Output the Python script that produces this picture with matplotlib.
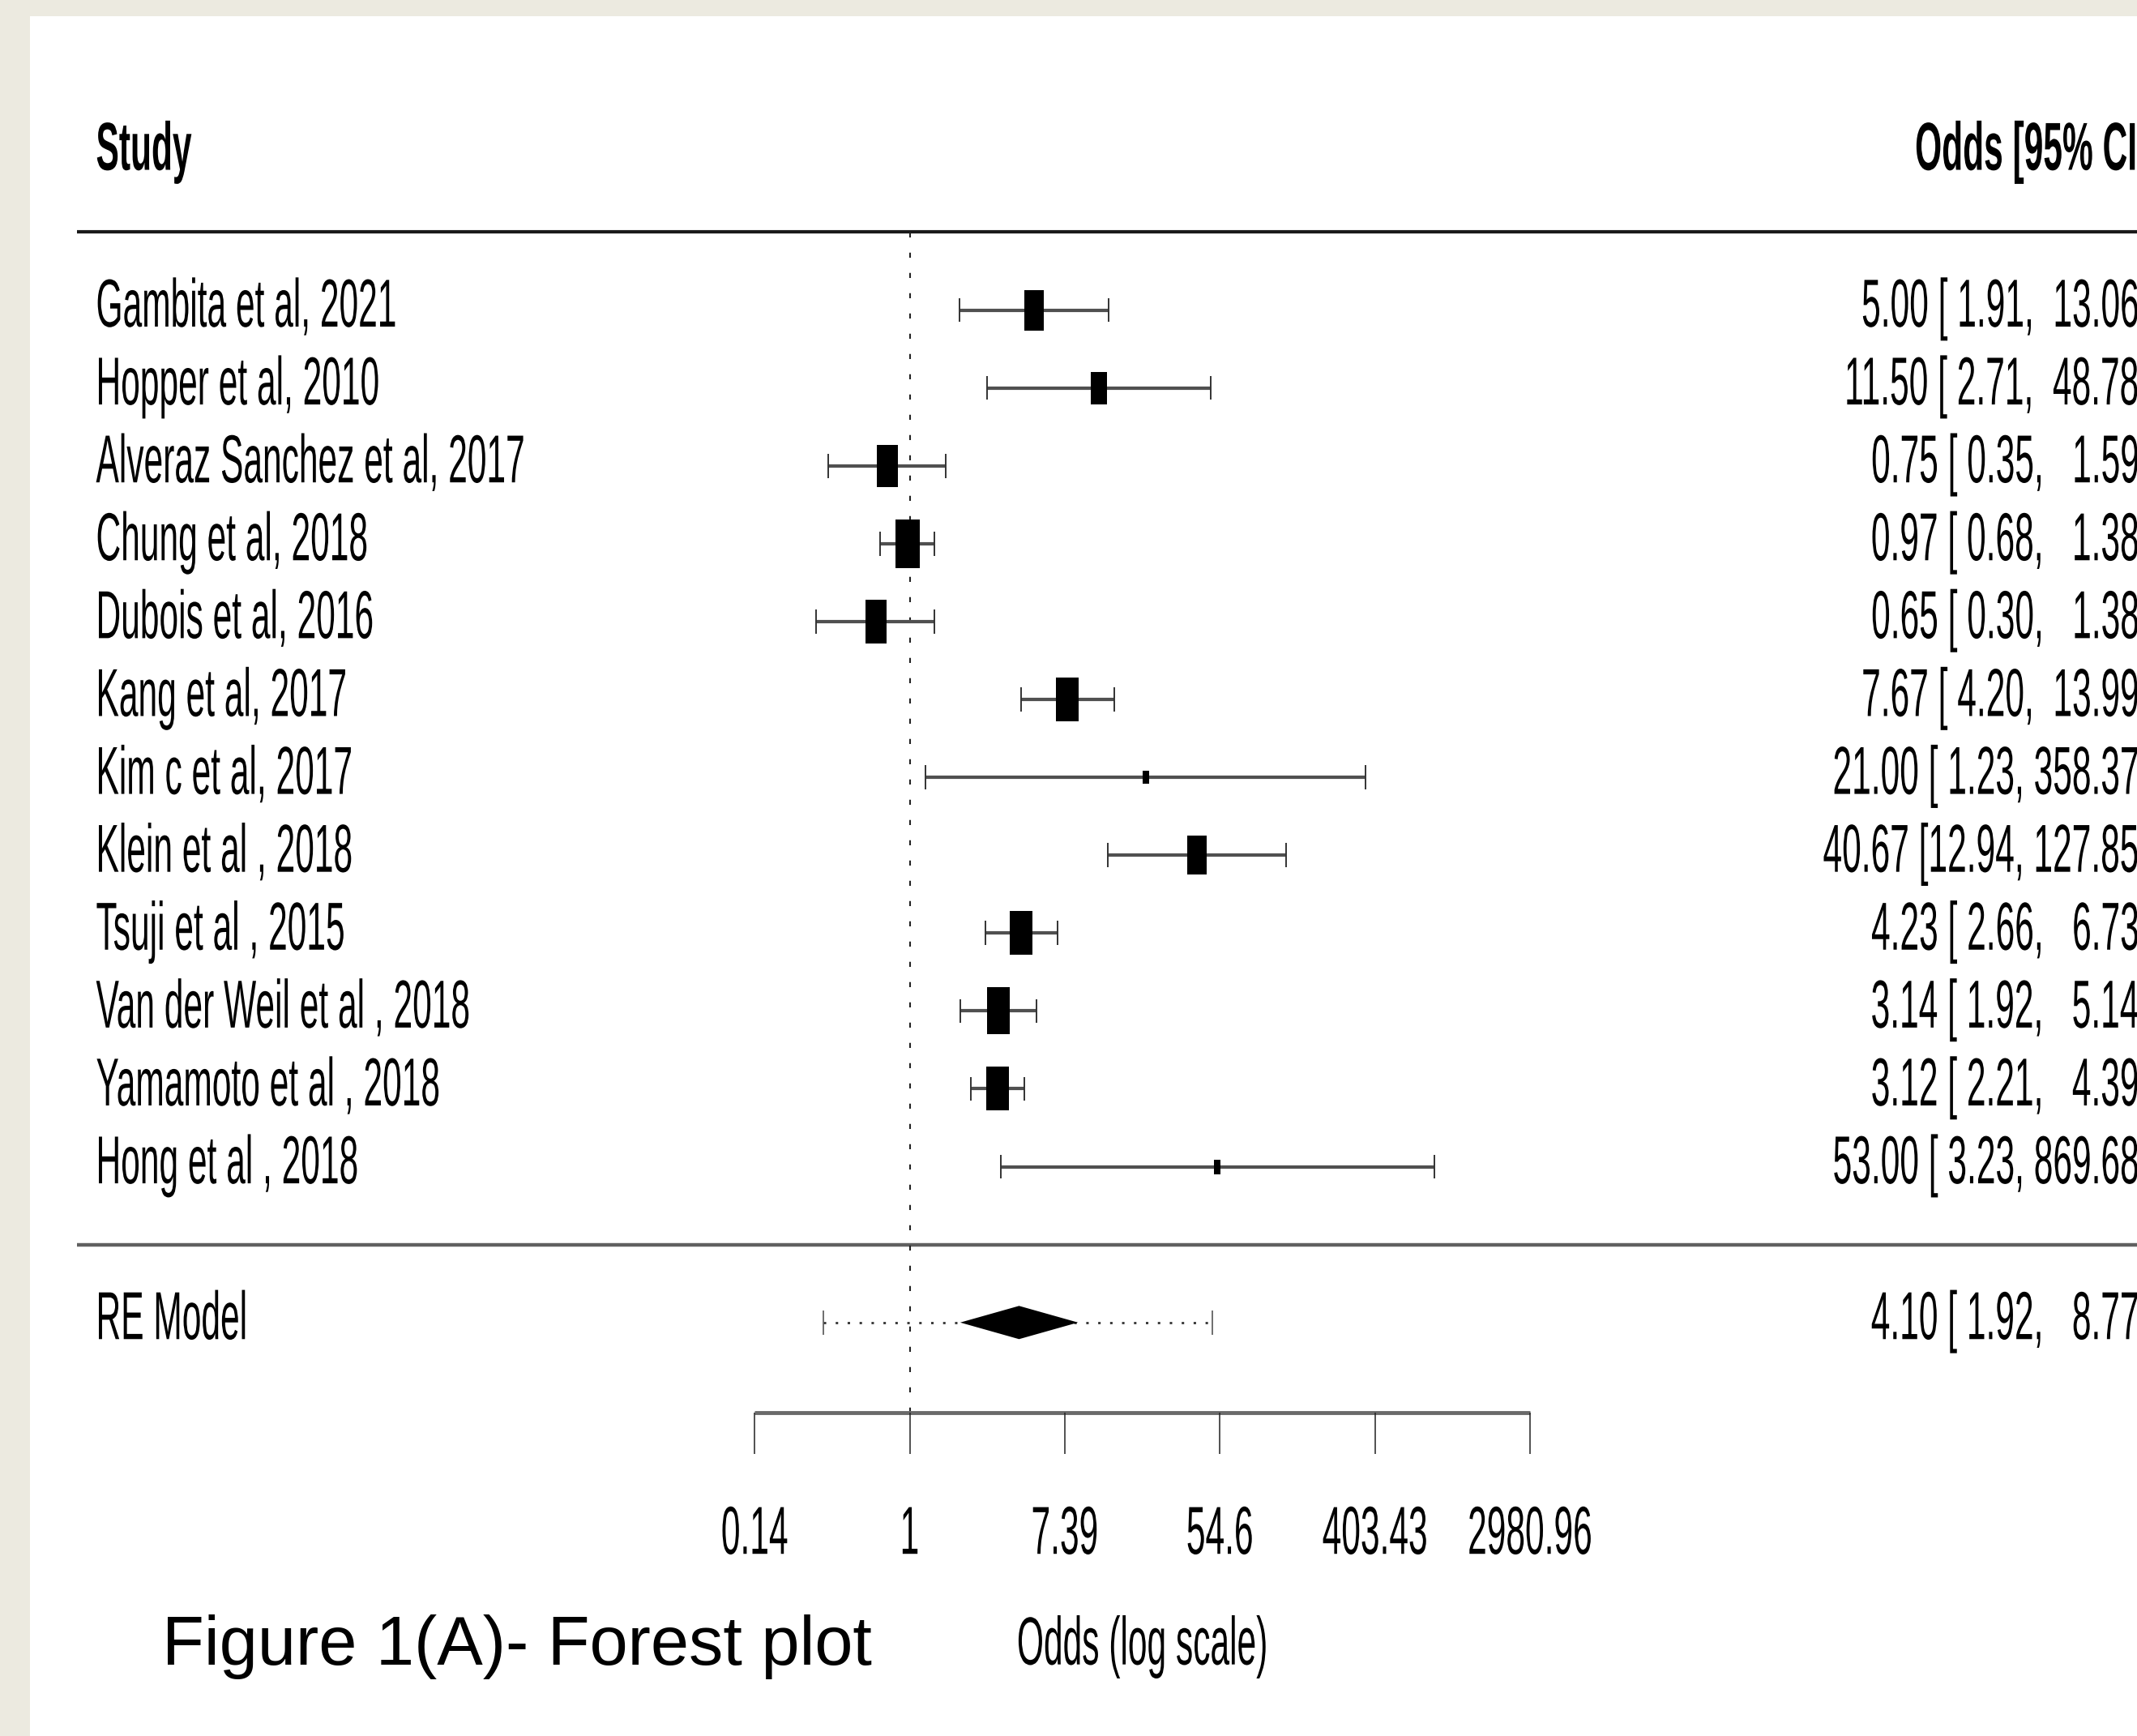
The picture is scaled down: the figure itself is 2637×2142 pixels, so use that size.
import numpy as np
import matplotlib
matplotlib.use('Agg')
import matplotlib.pyplot as plt
from matplotlib.patheffects import AbstractPathEffect
from matplotlib.transforms import Affine2D
from matplotlib.path import Path
from matplotlib.patches import Rectangle

plt.rcParams['font.family'] = ['Liberation Sans', 'DejaVu Sans']

# ---- data ----
studies = ['Gambita et al, 2021', 'Hopper et al, 2010', 'Alveraz Sanchez et al, 2017',
           'Chung et al, 2018', 'Dubois et al, 2016', 'Kang et al, 2017',
           'Kim c et al, 2017', 'Klein et al , 2018', 'Tsuji et al , 2015',
           'Van der Weil et al , 2018', 'Yamamoto et al , 2018', 'Hong et al , 2018']
odds = [5.00, 11.50, 0.75, 0.97, 0.65, 7.67, 21.00, 40.67, 4.23, 3.14, 3.12, 53.00]
ci_lo = [1.91, 2.71, 0.35, 0.68, 0.30, 4.20, 1.23, 12.94, 2.66, 1.92, 2.21, 3.23]
ci_hi = [13.06, 48.78, 1.59, 1.38, 1.38, 13.99, 358.37, 127.85, 6.73, 5.14, 4.39, 869.68]
weights = [8.8, 7.0, 9.3, 10.6, 9.5, 9.8, 2.9, 8.4, 9.8, 10.2, 9.8, 3.2]  # relative box size

re_est, re_lo, re_hi = 4.10, 1.92, 8.77
pi_lo, pi_hi = 0.33, 49.5

tick_log = [-2, 0, 2, 4, 6, 8]
tick_labels = ['0.14', '1', '7.39', '54.6', '403.43', '2980.96']


# the R plot was stretched vertically, so glyphs are drawn tall and narrow
class Stretch(AbstractPathEffect):
    def __init__(self, sy=2.0):
        super().__init__()
        self.sy = sy

    def draw_path(self, renderer, gc, tpath, affine, rgbFace=None):
        y0 = affine.transform([[0.0, 0.0]])[0, 1]   # baseline
        tr = affine + Affine2D().translate(0, -y0).scale(1, self.sy).translate(0, y0)
        renderer.draw_path(gc, tpath, tr, rgbFace)


W, H = 2637, 2142
X0_PX = 1122.5      # pixel column of odds = 1
PX_PER_LOG = 95.67
ROW1_PX = 382.5     # pixel row of first study
PX_PER_ROW = 96.1


def px_odds(px):
    return np.exp((px - X0_PX) / PX_PER_LOG)


fig = plt.figure(figsize=(W / 100, H / 100), dpi=100, facecolor='#ECEAE0')
ax = fig.add_axes([0, 0, 1, 1])
ax.set_xscale('log')
ax.set_xlim(px_odds(0), px_odds(W))
ax.set_ylim(12 - (H - ROW1_PX) / PX_PER_ROW, 12 + ROW1_PX / PX_PER_ROW)
ax.axis('off')

ax.add_patch(Rectangle((37 / W, 0), 1, 1 - 20 / H, transform=ax.transAxes,
                       facecolor='white', edgecolor='none', zorder=0))

FS = 30.6
stretch = [Stretch(1.97)]


def txt(x, y, s, ha='left', **kw):
    return ax.text(x, y, s, ha=ha, va='baseline', fontsize=FS,
                   path_effects=stretch, **kw)


k = len(studies)
rows = np.arange(k, 0, -1)
x_left = px_odds(118.5)
x_right = px_odds(2651)
y_axis = -2.16

# header and separator lines
txt(x_left, 13.8, 'Study', fontweight='bold')
txt(x_right, 13.8, 'Odds [95% CI]', ha='right', fontweight='bold')
ax.hlines(13, px_odds(95), px_odds(W + 10), color='#1a1a1a', lw=3)
ax.hlines(0, px_odds(95), px_odds(W + 10), color='#606060', lw=3.2)

# reference line
ax.vlines(1, y_axis, 13, color='#222222', lw=1.5, linestyles=[(0, (3, 9))])

# study rows
box = Path([(-0.5, -1), (0.5, -1), (0.5, 1), (-0.5, 1), (-0.5, -1)],
           [Path.MOVETO, Path.LINETO, Path.LINETO, Path.LINETO, Path.CLOSEPOLY])
cap = 0.155
for i in range(k):
    y = rows[i]
    ax.hlines(y, ci_lo[i], ci_hi[i], color='#505050', lw=3.0, zorder=3)
    ax.vlines([ci_lo[i], ci_hi[i]], y - cap, y + cap, color='#333333', lw=1.4, zorder=3)
    w_px = weights[i] * 2.8
    ax.plot(odds[i], y, marker=box, markersize=2 * w_px * 0.72, color='black',
            mew=0, ls='none', zorder=4)
    txt(x_left, y - 0.213, studies[i])
    txt(x_right, y - 0.213,
        f'{odds[i]:.2f} [{ci_lo[i]:5.2f}, {ci_hi[i]:6.2f}]', ha='right')

# RE model
ax.hlines(-1, pi_lo, pi_hi, color='#333333', lw=2.0, linestyles=[(0, (1.1, 4.2))], zorder=3)
ax.vlines([pi_lo, pi_hi], -1 - cap, -1 + cap, color='#555555', lw=1.2, zorder=3)
d = 20.5 / PX_PER_ROW
ax.fill([re_lo, re_est, re_hi, re_est], [-1, -1 + d, -1, -1 - d], color='black', lw=0, zorder=4)
txt(x_left, -1.213, 'RE Model')
txt(x_right, -1.213, f'{re_est:.2f} [{re_lo:5.2f}, {re_hi:6.2f}]', ha='right')

# x axis drawn like metafor
ticks = np.exp(tick_log)
ax.hlines(y_axis, ticks[0], ticks[-1], color='#6a6a6a', lw=3.5)
ax.vlines(ticks, y_axis - 0.53, y_axis, color='#222222', lw=1.1)
for t, lab in zip(ticks, tick_labels):
    txt(t, -3.97, lab, ha='center')
txt(np.exp(3), -5.39, 'Odds (log scale)', ha='center')

ax.text(px_odds(200), -5.39, 'Figure 1(A)- Forest plot', ha='left', va='baseline',
        fontsize=61, color='black')

fig.savefig('out.png', dpi=100, facecolor=fig.get_facecolor())
